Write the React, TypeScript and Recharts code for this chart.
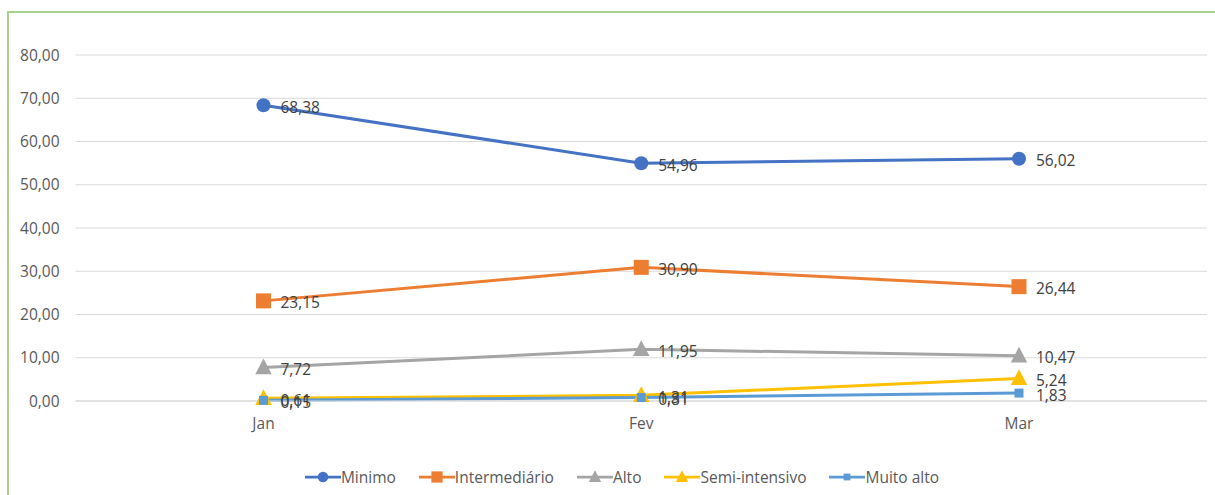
import { LineChart, Line, XAxis, YAxis, CartesianGrid, Legend, LabelList } from 'recharts';

const months = ['Jan', 'Fev', 'Mar'];
const minimo = [68.38, 54.96, 56.02];
const intermediario = [23.15, 30.9, 26.44];
const alto = [7.72, 11.95, 10.47];
const semiIntensivo = [0.61, 1.31, 5.24];
const muitoAlto = [0.15, 0.81, 1.83];
const yTicks = [0, 10, 20, 30, 40, 50, 60, 70, 80];

const data = months.map((m, i) => ({
  month: m,
  minimo: minimo[i],
  intermediario: intermediario[i],
  alto: alto[i],
  semi: semiIntensivo[i],
  muito: muitoAlto[i],
}));

type Shape = 'circle' | 'square' | 'triangle' | 'smallSquare';

const series: { key: string; name: string; color: string; shape: Shape }[] = [
  { key: 'minimo', name: 'Minimo', color: '#4472c4', shape: 'circle' },
  { key: 'intermediario', name: 'Intermediário', color: '#ed7d31', shape: 'square' },
  { key: 'alto', name: 'Alto', color: '#a5a5a5', shape: 'triangle' },
  { key: 'semi', name: 'Semi-intensivo', color: '#ffc000', shape: 'triangle' },
  { key: 'muito', name: 'Muito alto', color: '#5b9bd5', shape: 'smallSquare' },
];

const fmt = (v: number) => v.toFixed(2).replace('.', ',');
const FONT = '"Open Sans", sans-serif';

function marker(shape: Shape, color: string, cx: number, cy: number, scale = 1) {
  if (shape === 'circle') return <circle cx={cx} cy={cy} r={7 * scale} fill={color} />;
  if (shape === 'square') {
    const s = 15 * scale;
    return <rect x={cx - s / 2} y={cy - s / 2} width={s} height={s} fill={color} />;
  }
  if (shape === 'smallSquare') {
    const s = 9 * scale;
    return <rect x={cx - s / 2} y={cy - s / 2} width={s} height={s} fill={color} />;
  }
  const h = 15 * scale;
  return (
    <polygon
      points={`${cx},${cy - h * 0.6} ${cx + h * 0.55},${cy + h * 0.45} ${cx - h * 0.55},${cy + h * 0.45}`}
      fill={color}
    />
  );
}

function renderDot(shape: Shape, color: string) {
  return (props: any) => {
    const { cx, cy, index } = props;
    if (cx == null || cy == null) return <g key={index} />;
    return <g key={index}>{marker(shape, color, cx, cy)}</g>;
  };
}

function LegendContent() {
  return (
    <div
      style={{
        display: 'flex',
        justifyContent: 'center',
        gap: 23,
        paddingTop: 33,
        paddingLeft: 28,
        fontFamily: FONT,
        fontSize: 15.5,
        color: '#595959',
      }}
    >
      {series.map((s) => (
        <div key={s.key} style={{ display: 'flex', alignItems: 'center' }}>
          <svg width={36} height={16}>
            <line x1={0} y1={8} x2={36} y2={8} stroke={s.color} strokeWidth={2.75} />
            {marker(s.shape, s.color, 18, 8, 0.75)}
          </svg>
          <span>{s.name}</span>
        </div>
      ))}
    </div>
  );
}

export default function App() {
  return (
    <div
      style={{
        position: 'absolute',
        left: 7,
        top: 11,
        width: 1210,
        height: 490,
        borderTop: '2px solid #a9d18e',
        borderLeft: '2px solid #a9d18e',
        background: '#fff',
      }}
    >
      <LineChart
        width={1204}
        height={480}
        data={data}
        margin={{ top: 42, right: 6, left: 0, bottom: 0 }}
        style={{ fontFamily: FONT }}
      >
        <CartesianGrid vertical={false} stroke="#d9d9d9" />
        <XAxis
          dataKey="month"
          tick={{ fontSize: 15.5, fill: '#595959' }}
          tickLine={false}
          axisLine={{ stroke: '#d9d9d9' }}
          height={32}
          tickMargin={11}
          padding={{ left: 188, right: 188 }}
        />
        <YAxis
          domain={[0, 80]}
          ticks={yTicks}
          tickFormatter={fmt}
          tick={{ fontSize: 15.5, fill: '#595959' }}
          tickLine={false}
          axisLine={false}
          width={66.5}
          tickMargin={10}
        />
        <Legend verticalAlign="bottom" height={60} content={<LegendContent />} />
        {series.map((s) => (
          <Line
            key={s.key}
            type="linear"
            dataKey={s.key}
            name={s.name}
            stroke={s.color}
            strokeWidth={3}
            dot={renderDot(s.shape, s.color)}
            isAnimationActive={false}
          >
            <LabelList
              dataKey={s.key}
              position="right"
              offset={17}
              formatter={(v: any) => fmt(Number(v))}
              style={{ fontSize: 15.5, fill: '#404040', fontFamily: FONT }}
              dy={2}
            />
          </Line>
        ))}
      </LineChart>
    </div>
  );
}
